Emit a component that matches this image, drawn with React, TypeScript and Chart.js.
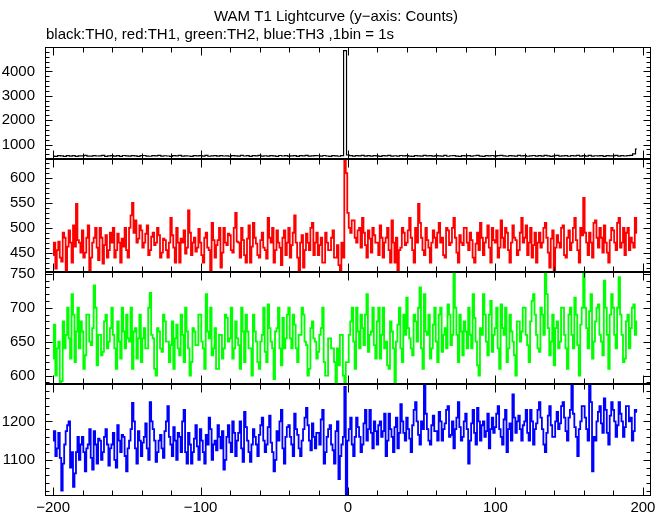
import React, { useEffect, useRef } from 'react';
import { Chart, registerables } from 'chart.js';

Chart.register(...registerables);

// Time bins (seconds): first bin start; TH0 listed every 2 s, TH1-TH3 every 1 s
const BIN_START = -200;
const STEP_TH0 = 2;
const STEP_TH123 = 1;

// TH0 (black) counts, 2 s spacing
const th0 = [
  530, 515, 548, 535, 520, 552, 532, 545, 518, 542,
  536, 556, 524, 527, 548, 533, 539, 560, 521, 536,
  551, 528, 545, 519, 554, 535, 526, 548, 537, 520,
  546, 553, 530, 522, 549, 536, 562, 527, 544, 534,
  520, 547, 535, 555, 526, 542, 533, 518, 550, 536,
  548, 528, 557, 522, 536, 546, 525, 552, 533, 541,
  522, 550, 536, 527, 558, 534, 547, 520, 545, 535,
  556, 530, 543, 524, 549, 536, 521, 553, 534, 546,
  528, 541, 552, 520, 545, 535, 559, 526, 538, 548,
  543, 524, 553, 533, 519, 547, 536, 522, 548, 4850,
  575, 552, 528, 546, 536, 557, 525, 545, 531, 550,
  537, 521, 549, 536, 561, 530, 544, 526, 553, 535,
  547, 531, 520, 551, 537, 526, 556, 535, 545, 524,
  552, 536, 529, 560, 522, 543, 549, 531, 519, 547,
  535, 551, 526, 544, 557, 530, 521, 548, 537, 553,
  528, 545, 558, 535, 523, 549, 536, 530, 560, 537,
  548, 522, 536, 554, 530, 545, 525, 556, 536, 520,
  543, 557, 528, 537, 551, 522, 548, 535, 562, 531,
  547, 529, 555, 524, 543, 536, 552, 520, 546, 535,
  542, 556, 527, 545, 533, 549, 560, 620, 820,
];

// TH1 (red) counts, 1 s bins from -200 s
const th1 = [
  445, 470, 418, 455, 472, 440, 432, 490, 480, 412, 462, 495, 470, 430, 505, 462, 548, 475, 470, 450,
  495, 440, 450, 480, 505, 412, 440, 470, 480, 500, 460, 435, 500, 480, 428, 465, 485, 440, 455, 490,
  470, 500, 440, 455, 488, 470, 430, 478, 462, 500, 455, 440, 500, 525, 550, 490, 515, 470, 478, 505,
  495, 460, 470, 488, 505, 445, 455, 482, 490, 465, 470, 500, 485, 440, 450, 478, 475, 455, 440, 470,
  520, 485, 460, 430, 500, 470, 430, 478, 470, 495, 448, 460, 535, 490, 445, 470, 480, 452, 460, 498,
  470, 445, 430, 480, 490, 460, 455, 412, 510, 475, 440, 465, 475, 500, 420, 450, 500, 470, 465, 488,
  485, 455, 450, 500, 530, 472, 470, 440, 500, 475, 445, 430, 478, 505, 430, 462, 510, 480, 468, 445,
  440, 475, 490, 460, 455, 438, 520, 480, 470, 500, 430, 455, 495, 470, 460, 425, 480, 495, 445, 470,
  500, 440, 465, 490, 525, 470, 440, 412, 470, 485, 420, 455, 488, 470, 455, 500, 510, 445, 470, 490,
  445, 465, 480, 430, 430, 490, 470, 455, 455, 480, 495, 440, 440, 465, 425, 412, 470, 440, 636, 610,
  530, 500, 490, 515, 515, 480, 470, 495, 500, 460, 520, 490, 465, 440, 495, 478, 450, 500, 485, 470,
  470, 445, 505, 480, 440, 470, 480, 500, 455, 430, 515, 470, 430, 480, 412, 455, 460, 500, 490, 465,
  470, 495, 520, 480, 455, 430, 500, 470, 548, 510, 480, 455, 445, 500, 475, 460, 430, 470, 495, 480,
  460, 490, 510, 470, 480, 445, 440, 500, 495, 465, 470, 500, 520, 480, 450, 430, 485, 470, 465, 500,
  500, 470, 455, 490, 475, 440, 430, 468, 490, 455, 510, 480, 445, 470, 480, 505, 460, 430, 500, 475,
  470, 495, 440, 460, 515, 480, 460, 500, 490, 455, 430, 470, 505, 480, 475, 445, 455, 490, 520, 470,
  480, 505, 445, 470, 500, 440, 465, 490, 430, 470, 490, 460, 470, 500, 510, 480, 450, 420, 478, 495,
  412, 460, 485, 470, 460, 500, 505, 445, 440, 480, 495, 455, 470, 500, 520, 475, 455, 430, 500, 485,
  560, 490, 470, 445, 490, 470, 440, 510, 515, 480, 460, 500, 480, 450, 505, 470, 450, 430, 475, 500,
  495, 470, 455, 510, 520, 460, 470, 500, 445, 490, 500, 455, 480, 470, 460, 520, 490,
];

// TH2 (green) counts, 1 s bins from -200 s
const th2 = [
  625, 675, 600, 640, 650, 590, 592, 680, 640, 660, 700, 655, 625, 720, 690, 620, 665, 700, 640, 680,
  665, 610, 630, 690, 690, 650, 645, 670, 733, 700, 615, 660, 660, 630, 635, 680, 690, 640, 650, 670,
  700, 660, 640, 610, 680, 650, 625, 700, 665, 640, 690, 655, 650, 700, 610, 665, 670, 625, 655, 690,
  620, 655, 670, 640, 640, 700, 722, 660, 655, 610, 600, 670, 665, 640, 635, 690, 680, 650, 650, 620,
  645, 680, 610, 655, 675, 640, 630, 690, 660, 620, 700, 665, 640, 600, 620, 670, 665, 645, 645, 690,
  690, 650, 640, 610, 720, 665, 655, 700, 630, 640, 670, 610, 610, 660, 660, 625, 640, 690, 685, 650,
  655, 700, 625, 640, 680, 655, 645, 610, 700, 665, 620, 690, 665, 640, 640, 600, 690, 665, 650, 620,
  610, 650, 660, 700, 635, 620, 705, 670, 650, 640, 595, 665, 670, 700, 640, 615, 685, 640, 655, 690,
  700, 655, 640, 690, 675, 640, 620, 660, 660, 700, 690, 650, 645, 600, 610, 670, 680, 655, 650, 625,
  635, 660, 670, 700, 620, 600, 600, 655, 655, 640, 640, 620, 590, 640, 615, 660, 660, 600, 588, 620,
  620, 660, 680, 700, 650, 610, 700, 665, 640, 690, 670, 645, 690, 720, 635, 660, 665, 700, 645, 625,
  680, 700, 625, 660, 700, 640, 650, 615, 610, 680, 665, 640, 590, 650, 675, 700, 640, 620, 690, 660,
  715, 670, 655, 640, 630, 690, 680, 650, 700, 730, 640, 610, 720, 665, 660, 690, 625, 640, 675, 700,
  650, 620, 690, 700, 635, 660, 670, 640, 705, 690, 645, 660, 753, 700, 660, 620, 690, 665, 630, 680,
  665, 640, 700, 660, 640, 720, 685, 650, 615, 600, 670, 660, 720, 690, 650, 630, 690, 710, 635, 660,
  670, 700, 640, 610, 705, 670, 660, 700, 620, 640, 690, 665, 650, 630, 600, 680, 680, 650, 665, 700,
  700, 660, 645, 620, 680, 710, 720, 690, 660, 640, 635, 700, 690, 660, 753, 720, 670, 630, 650, 690,
  615, 670, 680, 640, 650, 700, 700, 660, 640, 610, 690, 700, 660, 640, 715, 690, 645, 600, 675, 700,
  753, 700, 670, 640, 695, 720, 625, 650, 680, 700, 705, 660, 650, 630, 740, 700, 660, 610, 690, 720,
  700, 660, 640, 700, 745, 690, 660, 620, 625, 680, 690, 640, 670, 700, 705, 660, 680,
];

// TH3 (blue) counts, 1 s bins from -200 s
const th3 = [
  1150, 1175, 1110, 1130, 1170, 1105, 1020, 1090, 1140, 1175, 1190, 1200, 1080, 1120, 1030, 1065, 1120, 1160, 1100, 1140,
  1160, 1120, 1070, 1130, 1140, 1180, 1105, 1075, 1175, 1140, 1090, 1155, 1150, 1100, 1120, 1160, 1180, 1140, 1085, 1130,
  1140, 1170, 1100, 1080, 1190, 1150, 1120, 1165, 1160, 1110, 1070, 1130, 1150, 1180, 1248, 1200, 1130, 1090, 1175, 1150,
  1110, 1145, 1160, 1195, 1130, 1100, 1250, 1200, 1180, 1150, 1095, 1120, 1150, 1165, 1130, 1105, 1175, 1200, 1240, 1160,
  1140, 1110, 1185, 1150, 1100, 1170, 1160, 1120, 1200, 1230, 1120, 1090, 1170, 1140, 1090, 1120, 1155, 1190, 1135, 1100,
  1180, 1150, 1120, 1090, 1165, 1140, 1210, 1180, 1100, 1140, 1150, 1125, 1190, 1160, 1130, 1175, 1075, 1100, 1160, 1190,
  1145, 1120, 1200, 1170, 1110, 1150, 1170, 1200, 1130, 1095, 1225, 1185, 1150, 1120, 1095, 1140, 1180, 1160, 1140, 1110,
  1165, 1190, 1210, 1150, 1120, 1140, 1185, 1215, 1145, 1120, 1070, 1100, 1175, 1150, 1200, 1230, 1130, 1090, 1160, 1185,
  1190, 1160, 1140, 1110, 1220, 1180, 1165, 1130, 1110, 1150, 1180, 1210, 1235, 1190, 1150, 1125, 1195, 1160, 1130, 1170,
  1170, 1140, 1205, 1230, 1090, 1120, 1160, 1180, 1190, 1140, 1125, 1090, 1175, 1200, 1050, 1110, 1140, 1160, 1290, 1008,
  1150, 1180, 1210, 1140, 1110, 1160, 1210, 1185, 1160, 1120, 1140, 1195, 1230, 1150, 1180, 1230, 1170, 1130, 1200, 1175,
  1140, 1190, 1200, 1160, 1175, 1220, 1110, 1150, 1220, 1180, 1160, 1120, 1185, 1210, 1130, 1170, 1245, 1200, 1170, 1150,
  1210, 1180, 1155, 1120, 1190, 1230, 1250, 1200, 1165, 1140, 1200, 1180, 1298, 1220, 1180, 1150, 1140, 1190, 1215, 1175,
  1175, 1150, 1225, 1200, 1150, 1180, 1195, 1230, 1240, 1160, 1165, 1200, 1130, 1180, 1210, 1250, 1185, 1150, 1160, 1200,
  1220, 1180, 1090, 1150, 1195, 1230, 1170, 1140, 1235, 1200, 1150, 1190, 1200, 1160, 1175, 1220, 1130, 1180, 1210, 1170,
  1185, 1220, 1240, 1180, 1160, 1140, 1205, 1230, 1120, 1180, 1195, 1150, 1270, 1210, 1170, 1200, 1215, 1180, 1150, 1190,
  1200, 1230, 1170, 1150, 1230, 1200, 1140, 1180, 1195, 1230, 1250, 1210, 1180, 1140, 1120, 1170, 1215, 1240, 1190, 1160,
  1160, 1200, 1225, 1180, 1195, 1240, 1250, 1210, 1175, 1150, 1210, 1230, 1298, 1220, 1185, 1160, 1110, 1180, 1200, 1240,
  1240, 1210, 1180, 1150, 1298, 1250, 1070, 1160, 1150, 1200, 1225, 1240, 1195, 1170, 1260, 1230, 1170, 1140, 1215, 1250,
  1230, 1200, 1160, 1190, 1250, 1220, 1200, 1160, 1185, 1240, 1240, 1200, 1210, 1150, 1175, 1230, 1225,
];

// Tick labels
const xTickLabels = [-200, -100, 0, 100, 200];
const yTicksTH0 = [1000, 2000, 3000, 4000];
const yTicksTH1 = [450, 500, 550, 600];
const yTicksTH2 = [600, 650, 700, 750];
const yTicksTH3 = [1100, 1200];

const TITLE = 'WAM T1 Lightcurve (y\u2212axis: Counts)';
const SUBTITLE = 'black:TH0, red:TH1, green:TH2, blue:TH3 ,1bin = 1s';

const FONT = '"Liberation Sans", Arial, sans-serif';

const panels = [
  { id: 'y0', data: th0, step: STEP_TH0, color: '#000000', width: 1.2, min: 400, max: 5000, labels: yTicksTH0, major: 1000, minor: 200 },
  { id: 'y1', data: th1, step: STEP_TH123, color: '#ff0000', width: 1.8, min: 412, max: 638, labels: yTicksTH1, major: 50, minor: 10 },
  { id: 'y2', data: th2, step: STEP_TH123, color: '#00ff00', width: 1.8, min: 588, max: 753.4, labels: yTicksTH2, major: 50, minor: 10 },
  { id: 'y3', data: th3, step: STEP_TH123, color: '#0000ff', width: 1.8, min: 1006, max: 1298, labels: yTicksTH3, major: 100, minor: 20 },
];

const toPoints = (arr: number[], step: number) => arr.map((v, i) => ({ x: BIN_START + i * step, y: v }));

const framePlugin = {
  id: 'frame',
  afterDatasetsDraw(chart: any) {
    const ctx = chart.ctx;
    const xs = chart.scales.x;
    const left = Math.round(chart.chartArea.left) + 0.5;
    const right = Math.round(chart.chartArea.right) - 0.5;
    ctx.save();
    ctx.strokeStyle = '#000';
    ctx.lineWidth = 1;
    const line = (x1: number, y1: number, x2: number, y2: number) => {
      ctx.beginPath();
      ctx.moveTo(x1, y1);
      ctx.lineTo(x2, y2);
      ctx.stroke();
    };
    for (const p of panels) {
      const ys = chart.scales[p.id];
      const top = Math.round(ys.top) + 0.5;
      const bottom = Math.round(ys.bottom) - 0.5;
      ctx.strokeRect(left, top, right - left, bottom - top);
      const start = Math.ceil(ys.min / p.minor) * p.minor;
      for (let v = start; v <= ys.max; v += p.minor) {
        const y = Math.round(ys.getPixelForValue(v)) + 0.5;
        const len = v % p.major === 0 ? 7 : 4;
        line(left, y, left + len, y);
        line(right, y, right - len, y);
      }
      for (let v = -200; v <= 200; v += 20) {
        const x = Math.round(xs.getPixelForValue(v)) + 0.5;
        const len = v % 100 === 0 ? 8 : 5;
        line(x, top, x, top + len);
        line(x, bottom, x, bottom - len);
      }
    }
    ctx.restore();
  },
  afterDraw(chart: any) {
    const ctx = chart.ctx;
    ctx.save();
    ctx.fillStyle = '#000';
    ctx.font = `15px ${FONT}`;
    ctx.textBaseline = 'middle';
    ctx.textAlign = 'center';
    ctx.fillText(TITLE, 336, 17);
    ctx.textAlign = 'left';
    ctx.fillText(SUBTITLE, 46, 35);
    ctx.restore();
  },
};

export default function App() {
  const ref = useRef<HTMLCanvasElement | null>(null);
  useEffect(() => {
    if (!ref.current) return;
    const scales: any = {
      x: {
        type: 'linear',
        position: 'bottom',
        min: -205.5,
        max: 205.5,
        grid: { display: false, drawTicks: false },
        border: { display: false },
        afterBuildTicks: (s: any) => { s.ticks = xTickLabels.map((v) => ({ value: v })); },
        afterFit: (s: any) => { s.height = 19; },
        ticks: {
          padding: 3,
          autoSkip: false,
          color: '#000',
          font: { family: FONT, size: 15 },
          maxRotation: 0,
          callback: (v: any) => (v < 0 ? '\u2212' + Math.abs(v) : String(v)),
        },
      },
    };
    // define bottom panel first so that the top panel ends up on top of the stack
    for (const p of [...panels].reverse()) {
      scales[p.id] = {
        type: 'linear',
        position: 'left',
        stack: 'panels',
        stackWeight: 1,
        min: p.min,
        max: p.max,
        grid: { display: false, drawTicks: false },
        border: { display: false },
        afterBuildTicks: (s: any) => { s.ticks = p.labels.map((v) => ({ value: v })); },
        afterFit: (s: any) => { s.width = 45; },
        ticks: {
          padding: 10,
          autoSkip: false,
          color: '#000',
          font: { family: FONT, size: 15 },
          callback: (v: any) => String(v),
        },
      };
    }
    const chart = new Chart(ref.current, {
      type: 'line',
      data: {
        datasets: panels.map((p) => ({
          label: p.id,
          data: toPoints(p.data, p.step),
          yAxisID: p.id,
          xAxisID: 'x',
          borderColor: p.color,
          backgroundColor: p.color,
          borderWidth: p.width,
          pointRadius: 0,
          stepped: 'middle',
          clip: 0,
        })),
      },
      options: {
        responsive: false,
        animation: false,
        events: [],
        layout: { padding: { top: 47, right: 18, bottom: 0, left: 0 } },
        plugins: { legend: { display: false }, title: { display: false }, tooltip: { enabled: false } },
        scales,
      },
      plugins: [framePlugin],
    } as any);
    return () => chart.destroy();
  }, []);
  return (
    <div style={{ position: 'absolute', left: 0, top: 0, width: 669, height: 515, background: '#fff' }}>
      <canvas ref={ref} width={669} height={515} style={{ display: 'block' }} />
    </div>
  );
}
